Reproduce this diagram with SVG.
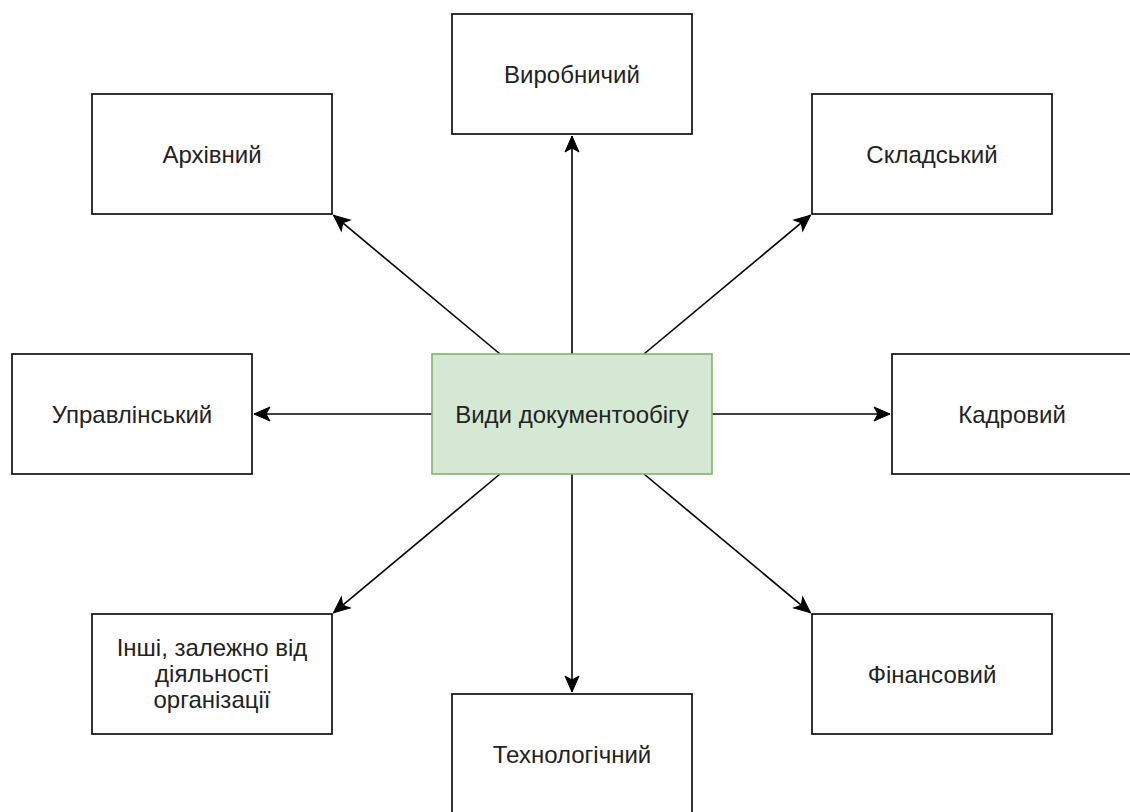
<svg xmlns="http://www.w3.org/2000/svg" width="1130" height="812" viewBox="0 0 1130 812">
<style>
.box{fill:#ffffff;stroke:#000000;stroke-width:1.6}
.center{fill:#d5e8d4;stroke:#82b366;stroke-width:1.6}
.lbl{font-family:"Liberation Sans",Arial,Helvetica,sans-serif;font-size:24px;fill:#222222;text-anchor:middle}
.edge{stroke:#000000;stroke-width:1.6;fill:none;marker-end:url(#arr)}
</style>
<defs>
<marker id="arr" markerUnits="userSpaceOnUse" markerWidth="20" markerHeight="20" refX="16" refY="8" orient="auto" overflow="visible">
<path d="M16,8 L0,1 L4,8 L0,15 Z" fill="#000000" stroke="#000000" stroke-width="1"/>
</marker>
</defs>
<rect width="1130" height="812" fill="#ffffff"/>
<g id="connectors">
<path class="edge" d="M572,354 L572,136"/>
<path class="edge" d="M500,354 L333.5,215.2"/>
<path class="edge" d="M644,354 L810.5,215.2"/>
<path class="edge" d="M432,414 L254,414"/>
<path class="edge" d="M712,414 L890,414"/>
<path class="edge" d="M500,474 L333.5,612.8"/>
<path class="edge" d="M572,474 L572,692"/>
<path class="edge" d="M644,474 L810.5,612.8"/>
</g>
<g id="center">
<rect class="center" x="432" y="354" width="280" height="120"/>
<text class="lbl" x="572" y="422.5">Види документообігу</text>
</g>
<g id="vyrobnychyi">
<rect class="box" x="452" y="14" width="240" height="120"/>
<text class="lbl" x="572" y="82.5">Виробничий</text>
</g>
<g id="arkhivnyi">
<rect class="box" x="92" y="94" width="240" height="120"/>
<text class="lbl" x="212" y="162.5">Архівний</text>
</g>
<g id="skladskyi">
<rect class="box" x="812" y="94" width="240" height="120"/>
<text class="lbl" x="932" y="162.5">Складський</text>
</g>
<g id="upravlinskyi">
<rect class="box" x="12" y="354" width="240" height="120"/>
<text class="lbl" x="132" y="422.5">Управлінський</text>
</g>
<g id="kadrovyi">
<rect class="box" x="892" y="354" width="240" height="120"/>
<text class="lbl" x="1012" y="422.5">Кадровий</text>
</g>
<g id="inshi">
<rect class="box" x="92" y="614" width="240" height="120"/>
<text class="lbl" x="212" y="656">Інші, залежно від</text>
<text class="lbl" x="212" y="682">діяльності</text>
<text class="lbl" x="212" y="708">організації</text>
</g>
<g id="tekhnolohichnyi">
<rect class="box" x="452" y="694" width="240" height="120"/>
<text class="lbl" x="572" y="762.5">Технологічний</text>
</g>
<g id="finansovyi">
<rect class="box" x="812" y="614" width="240" height="120"/>
<text class="lbl" x="932" y="682.5">Фінансовий</text>
</g>
</svg>
